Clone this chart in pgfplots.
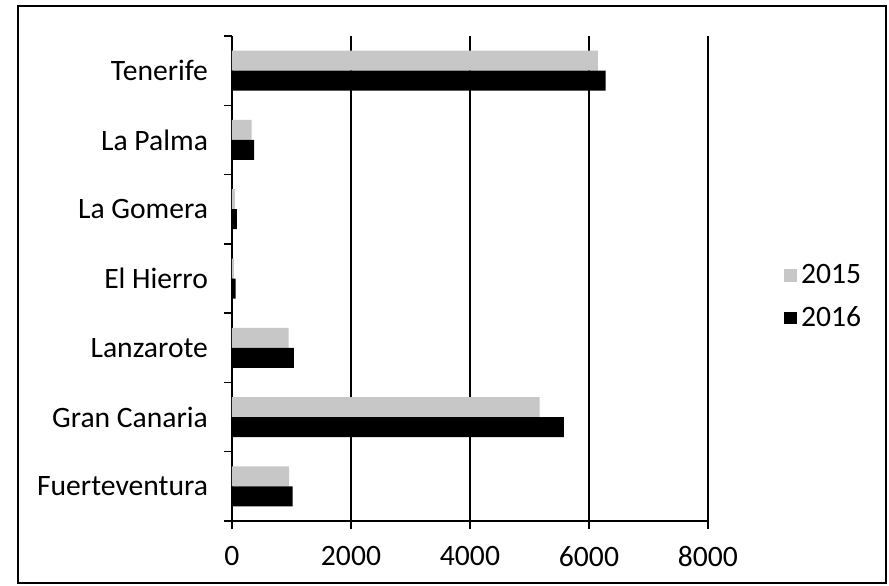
\documentclass[border=0pt]{standalone}
\usepackage{fontspec}
\setmainfont{Carlito}
\usepackage{pgfplots}
\pgfplotsset{compat=1.18}
\usetikzlibrary{patterns}
\begin{document}
\begin{tikzpicture}[x=1pt,y=1pt]
\useasboundingbox (-116,-32) rectangle (328.5,260.5);
\draw[line width=0.6pt] (-107,-31) rectangle (327,257.5);
\begin{axis}[
  at={(0,0)}, anchor=south west,
  width=238pt, height=242.5pt, scale only axis,
  xmin=0, xmax=8000, ymin=-0.5, ymax=6.5,
  xbar, bar width=10pt,
  xtick={0,2000,4000,6000,8000},
  scaled x ticks=false,
  /pgf/number format/1000 sep={},
  /pgf/number format/assume math mode=true,
  xmajorgrids, grid style={black, line width=0.7pt},
  axis x line*=bottom, axis y line*=left,
  axis line style={black, line width=0.8pt, -},
  ytick={0,1,2,3,4,5,6},
  yticklabels={Fuerteventura,Gran Canaria,Lanzarote,El Hierro,La Gomera,La Palma,Tenerife},
  major y tick style={draw=none},
  minor ytick={-0.5,0.5,1.5,2.5,3.5,4.5,5.5,6.5},
  minor tick length=4pt,
  major tick length=4pt,
  tick align=outside,
  tick style={black, line width=0.7pt},
  ticklabel style={font=\fontsize{14.8}{17}\selectfont},
  yticklabel style={xshift=-4.5pt},
  xticklabel style={yshift=-5pt},
  legend style={draw=none, fill=none, font=\fontsize{14.8}{17}\selectfont,
    at={(rel axis cs:1.245,0.462)}, anchor=center,
    row sep=6pt, legend cell align=left},
  legend image code/.code={\draw[#1, draw=none] (0pt,-3.2pt) rectangle (6.5pt,3.2pt);},
]
\addplot[fill=black!22, draw=none, bar shift=5pt] coordinates {
 (960,0) (5170,1) (950,2) (30,3) (50,4) (330,5) (6150,6)};
\addplot[fill=black, draw=none, bar shift=-5pt] coordinates {
 (1020,0) (5580,1) (1040,2) (60,3) (80,4) (370,5) (6280,6)};
\legend{2015,2016}
\end{axis}
\end{tikzpicture}
\end{document}
